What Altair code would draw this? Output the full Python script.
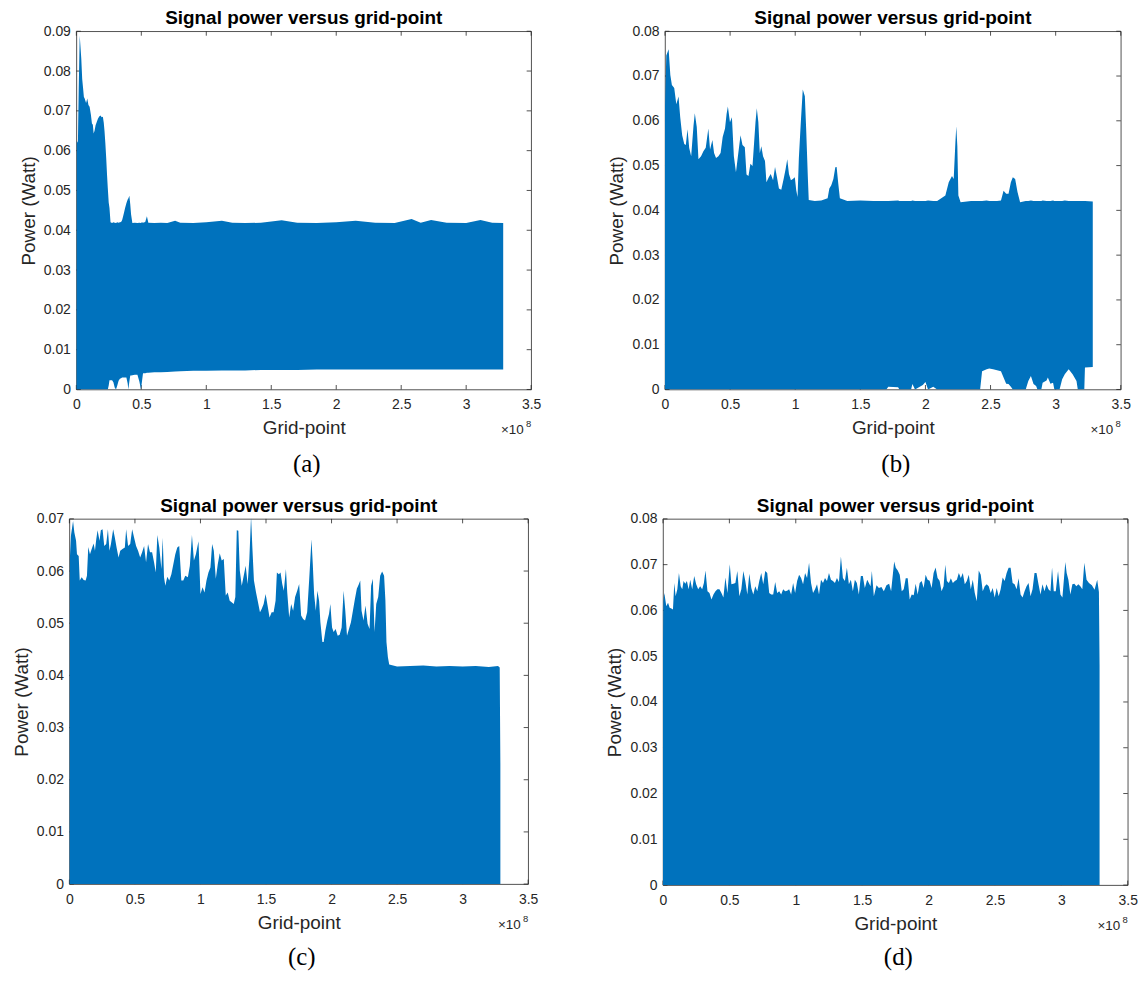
import altair as alt
import pandas as pd

BLUE = "#0072BD"
AX = "#262626"
SANS = "Liberation Sans"
SERIF = "Liberation Serif"

x_ticks = [0, 0.5, 1, 1.5, 2, 2.5, 3, 3.5]          # grid-point, x 10^8
y_ticks_a = [0, 0.01, 0.02, 0.03, 0.04, 0.05, 0.06, 0.07, 0.08, 0.09]
y_ticks_b = [0, 0.01, 0.02, 0.03, 0.04, 0.05, 0.06, 0.07, 0.08]
y_ticks_c = [0, 0.01, 0.02, 0.03, 0.04, 0.05, 0.06, 0.07]
y_ticks_d = [0, 0.01, 0.02, 0.03, 0.04, 0.05, 0.06, 0.07, 0.08]

title_text = "Signal power versus grid-point"
x_title = "Grid-point"
y_title = "Power (Watt)"
captions = ["(a)", "(b)", "(c)", "(d)"]

# ---------------- panel (a): grid point (x1e8), upper / lower envelope (W)
grid_a = [0.000, 0.003, 0.012, 0.018, 0.026, 0.032, 0.038, 0.045, 0.051, 0.058, 0.064, 0.075,
          0.084, 0.093, 0.102, 0.112, 0.120, 0.127, 0.133, 0.140, 0.148, 0.157, 0.166, 0.176,
          0.186, 0.195, 0.204, 0.211, 0.217, 0.223, 0.230, 0.236, 0.242, 0.249, 0.255, 0.263,
          0.275, 0.285, 0.295, 0.305, 0.315, 0.325, 0.335, 0.344, 0.352, 0.360, 0.368, 0.375,
          0.385, 0.395, 0.400, 0.408, 0.415, 0.421, 0.431, 0.450, 0.470, 0.485, 0.497, 0.505,
          0.513, 0.530, 0.543, 0.554, 0.600, 0.650, 0.700, 0.760, 0.800, 0.900, 1.000, 1.120,
          1.200, 1.300, 1.420, 1.580, 1.700, 1.850, 2.000, 2.150, 2.300, 2.450, 2.580, 2.650,
          2.730, 2.850, 3.000, 3.110, 3.200, 3.285]
upper_a = [0.0080, 0.0625, 0.0620, 0.0750, 0.0889, 0.0860, 0.0831, 0.0780, 0.0760, 0.0735, 0.0731, 0.0720,
           0.0731, 0.0715, 0.0710, 0.0690, 0.0668, 0.0665, 0.0643, 0.0650, 0.0664, 0.0672, 0.0680, 0.0686,
           0.0688, 0.0684, 0.0685, 0.0670, 0.0648, 0.0620, 0.0580, 0.0540, 0.0506, 0.0470, 0.0456, 0.0420,
           0.0418, 0.0420, 0.0419, 0.0418, 0.0420, 0.0419, 0.0420, 0.0421, 0.0425, 0.0435, 0.0446, 0.0456,
           0.0468, 0.0477, 0.0480, 0.0487, 0.0465, 0.0440, 0.0418, 0.0419, 0.0418, 0.0419, 0.0418, 0.0420,
           0.0419, 0.0421, 0.0435, 0.0419, 0.0418, 0.0419, 0.0418, 0.0424, 0.0419, 0.0418, 0.0420, 0.0424,
           0.0419, 0.0418, 0.0419, 0.0425, 0.0419, 0.0418, 0.0420, 0.0424, 0.0419, 0.0418, 0.0428, 0.0419,
           0.0426, 0.0419, 0.0418, 0.0426, 0.0419, 0.0418]
lower_a = [0, 0, 0, 0, 0, 0, 0, 0, 0, 0, 0, 0,
           0, 0, 0, 0, 0, 0, 0, 0, 0, 0, 0, 0,
           0, 0, 0, 0, 0, 0, 0, 0, 0, 0.0010, 0.0023, 0.0023,
           0.0023, 0.0018, 0.0005, 0, 0.0010, 0.0022, 0.0027, 0.0028, 0.0030, 0.0030, 0.0030, 0.0030,
           0.0030, 0.0015, 0, 0.0020, 0.0035, 0.0035, 0.0036, 0.0037, 0.0037, 0.0020, 0, 0.0020,
           0.0041, 0.0041, 0.0042, 0.0042, 0.0043, 0.0043, 0.0044, 0.0045, 0.0046, 0.0047, 0.0047, 0.0048,
           0.0048, 0.0048, 0.0049, 0.0049, 0.0049, 0.0050, 0.0050, 0.0050, 0.0050, 0.0050, 0.0050, 0.0050,
           0.0050, 0.0050, 0.0050, 0.0050, 0.0050, 0.0050]

# ---------------- panel (b)
grid_b = [0.000, 0.010, 0.028, 0.041, 0.053, 0.071, 0.087, 0.104, 0.117, 0.132, 0.148, 0.160,
          0.173, 0.186, 0.201, 0.219, 0.229, 0.244, 0.257, 0.277, 0.295, 0.313, 0.333, 0.346,
          0.364, 0.377, 0.392, 0.410, 0.427, 0.443, 0.461, 0.473, 0.483, 0.499, 0.514, 0.529,
          0.545, 0.560, 0.580, 0.595, 0.613, 0.626, 0.641, 0.656, 0.672, 0.684, 0.695, 0.705,
          0.717, 0.728, 0.740, 0.753, 0.768, 0.779, 0.797, 0.812, 0.830, 0.845, 0.860, 0.875,
          0.893, 0.911, 0.926, 0.939, 0.952, 0.967, 0.982, 0.997, 1.008, 1.018, 1.028, 1.043,
          1.058, 1.074, 1.084, 1.097, 1.104, 1.150, 1.200, 1.249, 1.262, 1.277, 1.293, 1.308,
          1.318, 1.331, 1.343, 1.400, 1.500, 1.600, 1.700, 1.715, 1.790, 1.800, 1.890, 1.900,
          1.920, 1.980, 2.000, 2.020, 2.060, 2.090, 2.153, 2.179, 2.204, 2.217, 2.230, 2.237,
          2.245, 2.253, 2.270, 2.350, 2.420, 2.435, 2.470, 2.490, 2.520, 2.550, 2.580, 2.600,
          2.620, 2.638, 2.656, 2.671, 2.689, 2.707, 2.727, 2.770, 2.790, 2.810, 2.830, 2.850,
          2.860, 2.890, 2.900, 2.930, 2.940, 2.960, 2.980, 2.990, 3.030, 3.050, 3.070, 3.100,
          3.130, 3.160, 3.170, 3.220, 3.225, 3.285]
upper_b = [0.0630, 0.0746, 0.0760, 0.0702, 0.0680, 0.0673, 0.0637, 0.0654, 0.0608, 0.0568, 0.0548, 0.0546,
           0.0581, 0.0539, 0.0521, 0.0589, 0.0617, 0.0586, 0.0514, 0.0521, 0.0532, 0.0540, 0.0583, 0.0536,
           0.0557, 0.0528, 0.0517, 0.0521, 0.0528, 0.0564, 0.0583, 0.0615, 0.0632, 0.0597, 0.0608, 0.0521,
           0.0485, 0.0521, 0.0568, 0.0546, 0.0541, 0.0480, 0.0477, 0.0504, 0.0499, 0.0550, 0.0597, 0.0628,
           0.0597, 0.0528, 0.0543, 0.0521, 0.0510, 0.0463, 0.0474, 0.0481, 0.0467, 0.0497, 0.0474, 0.0449,
           0.0446, 0.0470, 0.0492, 0.0514, 0.0481, 0.0467, 0.0470, 0.0474, 0.0445, 0.0430, 0.0517, 0.0597,
           0.0670, 0.0655, 0.0583, 0.0474, 0.0423, 0.0421, 0.0422, 0.0427, 0.0449, 0.0456, 0.0470, 0.0496,
           0.0497, 0.0459, 0.0427, 0.0421, 0.0422, 0.0421, 0.0421, 0.0421, 0.0422, 0.0421, 0.0421, 0.0422,
           0.0421, 0.0421, 0.0421, 0.0422, 0.0421, 0.0421, 0.0433, 0.0463, 0.0477, 0.0470, 0.0551, 0.0588,
           0.0544, 0.0433, 0.0418, 0.0421, 0.0421, 0.0421, 0.0422, 0.0421, 0.0421, 0.0421, 0.0422, 0.0444,
           0.0437, 0.0437, 0.0463, 0.0474, 0.0470, 0.0441, 0.0418, 0.0421, 0.0421, 0.0422, 0.0421, 0.0421,
           0.0421, 0.0421, 0.0422, 0.0421, 0.0421, 0.0421, 0.0422, 0.0421, 0.0421, 0.0421, 0.0422, 0.0421,
           0.0421, 0.0421, 0.0421, 0.0421, 0.0421, 0.0420]
lower_b = [0] * 91 + [0.0006, 0.0005, 0, 0, 0.0012,
           0, 0.0010, 0.0017, 0, 0.0006, 0, 0, 0, 0, 0, 0, 0,
           0, 0, 0, 0, 0, 0.0041, 0.0045, 0.0047, 0.0045, 0.0043, 0.0041, 0.0027,
           0.0013, 0.0012, 0.0006, 0, 0, 0, 0, 0, 0.0019, 0.0030, 0.0012, 0.0008,
           0, 0, 0.0015, 0.0020, 0.0027, 0.0013, 0.0015, 0, 0, 0.0023, 0.0034, 0.0045,
           0.0034, 0.0019, 0, 0, 0.0049, 0.0050]

# ---------------- panel (c)  (lower envelope is zero everywhere)
grid_c = [0.000, 0.003, 0.012, 0.028, 0.038, 0.051, 0.058, 0.071, 0.079, 0.094, 0.109, 0.124,
          0.134, 0.144, 0.157, 0.170, 0.185, 0.195, 0.205, 0.215, 0.230, 0.240, 0.253, 0.266,
          0.281, 0.294, 0.306, 0.317, 0.334, 0.347, 0.360, 0.375, 0.388, 0.405, 0.423, 0.433,
          0.448, 0.464, 0.479, 0.494, 0.509, 0.524, 0.540, 0.555, 0.570, 0.585, 0.600, 0.615,
          0.631, 0.646, 0.659, 0.671, 0.686, 0.702, 0.712, 0.722, 0.732, 0.747, 0.762, 0.778,
          0.793, 0.808, 0.823, 0.838, 0.854, 0.869, 0.884, 0.904, 0.919, 0.935, 0.950, 0.965,
          0.985, 1.000, 1.016, 1.031, 1.046, 1.061, 1.076, 1.089, 1.102, 1.117, 1.132, 1.147,
          1.162, 1.178, 1.193, 1.208, 1.223, 1.238, 1.254, 1.266, 1.277, 1.289, 1.300, 1.315,
          1.330, 1.345, 1.360, 1.373, 1.386, 1.396, 1.408, 1.424, 1.439, 1.454, 1.467, 1.482,
          1.497, 1.512, 1.527, 1.543, 1.558, 1.573, 1.583, 1.598, 1.611, 1.624, 1.636, 1.652,
          1.662, 1.677, 1.692, 1.707, 1.722, 1.738, 1.753, 1.768, 1.783, 1.798, 1.814, 1.829,
          1.839, 1.847, 1.857, 1.867, 1.880, 1.892, 1.905, 1.915, 1.930, 1.940, 1.953, 1.968,
          1.981, 1.991, 2.004, 2.016, 2.031, 2.047, 2.062, 2.077, 2.092, 2.105, 2.118, 2.133,
          2.148, 2.163, 2.178, 2.193, 2.209, 2.219, 2.229, 2.244, 2.259, 2.275, 2.290, 2.302,
          2.315, 2.328, 2.341, 2.356, 2.371, 2.386, 2.401, 2.411, 2.419, 2.430, 2.440, 2.500,
          2.600, 2.700, 2.800, 2.900, 3.000, 3.100, 3.200, 3.270, 3.283, 3.288]
upper_c = [0.0087, 0.0620, 0.0668, 0.0696, 0.0674, 0.0658, 0.0632, 0.0629, 0.0582, 0.0588, 0.0583, 0.0582,
           0.0591, 0.0646, 0.0632, 0.0642, 0.0653, 0.0639, 0.0661, 0.0678, 0.0658, 0.0678, 0.0680, 0.0648,
           0.0652, 0.0680, 0.0639, 0.0652, 0.0680, 0.0664, 0.0645, 0.0626, 0.0639, 0.0642, 0.0645, 0.0680,
           0.0648, 0.0652, 0.0680, 0.0664, 0.0648, 0.0639, 0.0626, 0.0636, 0.0648, 0.0617, 0.0652, 0.0636,
           0.0636, 0.0617, 0.0597, 0.0669, 0.0645, 0.0604, 0.0664, 0.0588, 0.0572, 0.0589, 0.0582, 0.0594,
           0.0613, 0.0632, 0.0645, 0.0648, 0.0582, 0.0582, 0.0591, 0.0588, 0.0610, 0.0669, 0.0620, 0.0632,
           0.0657, 0.0556, 0.0569, 0.0559, 0.0582, 0.0597, 0.0607, 0.0652, 0.0639, 0.0585, 0.0613, 0.0634,
           0.0620, 0.0623, 0.0553, 0.0559, 0.0543, 0.0540, 0.0537, 0.0550, 0.0678, 0.0677, 0.0601, 0.0572,
           0.0591, 0.0610, 0.0575, 0.0623, 0.0705, 0.0645, 0.0582, 0.0559, 0.0540, 0.0521, 0.0527, 0.0537,
           0.0556, 0.0534, 0.0511, 0.0521, 0.0521, 0.0543, 0.0597, 0.0594, 0.0597, 0.0575, 0.0562, 0.0604,
           0.0559, 0.0511, 0.0537, 0.0524, 0.0550, 0.0562, 0.0575, 0.0515, 0.0508, 0.0505, 0.0521, 0.0582,
           0.0626, 0.0661, 0.0613, 0.0556, 0.0524, 0.0562, 0.0543, 0.0502, 0.0464, 0.0464, 0.0486, 0.0505,
           0.0518, 0.0537, 0.0492, 0.0483, 0.0489, 0.0476, 0.0478, 0.0492, 0.0562, 0.0524, 0.0476, 0.0489,
           0.0502, 0.0524, 0.0546, 0.0566, 0.0575, 0.0582, 0.0524, 0.0505, 0.0534, 0.0499, 0.0489, 0.0572,
           0.0585, 0.0483, 0.0537, 0.0550, 0.0591, 0.0599, 0.0591, 0.0543, 0.0464, 0.0435, 0.0421, 0.0417,
           0.0418, 0.0419, 0.0417, 0.0418, 0.0417, 0.0418, 0.0416, 0.0418, 0.0415, 0.0230]
lower_c = [0] * len(grid_c)

# ---------------- panel (d)  (lower envelope is zero everywhere)
grid_d = [0.000, 0.003, 0.010, 0.025, 0.038, 0.050, 0.063, 0.075, 0.085, 0.095, 0.108, 0.120,
          0.133, 0.145, 0.155, 0.168, 0.180, 0.193, 0.205, 0.220, 0.235, 0.250, 0.265, 0.280,
          0.295, 0.308, 0.320, 0.335, 0.350, 0.365, 0.380, 0.395, 0.410, 0.425, 0.440, 0.455,
          0.470, 0.485, 0.503, 0.515, 0.530, 0.545, 0.560, 0.575, 0.590, 0.605, 0.620, 0.635,
          0.650, 0.665, 0.680, 0.695, 0.710, 0.725, 0.740, 0.755, 0.770, 0.785, 0.800, 0.815,
          0.830, 0.845, 0.860, 0.875, 0.890, 0.905, 0.920, 0.935, 0.950, 0.965, 0.980, 0.995,
          1.010, 1.025, 1.040, 1.055, 1.070, 1.085, 1.100, 1.115, 1.130, 1.145, 1.160, 1.175,
          1.190, 1.205, 1.220, 1.235, 1.250, 1.265, 1.280, 1.295, 1.310, 1.325, 1.340, 1.355,
          1.370, 1.385, 1.400, 1.415, 1.430, 1.445, 1.460, 1.475, 1.490, 1.505, 1.520, 1.538,
          1.563, 1.573, 1.588, 1.608, 1.626, 1.645, 1.663, 1.683, 1.703, 1.718, 1.741, 1.753,
          1.768, 1.783, 1.798, 1.813, 1.828, 1.843, 1.858, 1.873, 1.888, 1.903, 1.918, 1.933,
          1.948, 1.963, 1.978, 1.993, 2.008, 2.023, 2.038, 2.053, 2.068, 2.083, 2.098, 2.113,
          2.126, 2.138, 2.153, 2.168, 2.183, 2.198, 2.213, 2.228, 2.243, 2.258, 2.273, 2.288,
          2.303, 2.318, 2.333, 2.348, 2.363, 2.378, 2.393, 2.408, 2.423, 2.438, 2.453, 2.468,
          2.483, 2.498, 2.513, 2.528, 2.543, 2.558, 2.573, 2.588, 2.603, 2.618, 2.633, 2.648,
          2.663, 2.678, 2.693, 2.708, 2.723, 2.738, 2.753, 2.768, 2.783, 2.798, 2.813, 2.828,
          2.843, 2.858, 2.873, 2.888, 2.903, 2.918, 2.930, 2.943, 2.958, 2.975, 2.993, 3.008,
          3.030, 3.040, 3.053, 3.068, 3.083, 3.098, 3.113, 3.128, 3.143, 3.158, 3.173, 3.190,
          3.208, 3.230, 3.250, 3.270, 3.283, 3.288]
upper_d = [0.0530, 0.0620, 0.0638, 0.0609, 0.0617, 0.0606, 0.0604, 0.0602, 0.0660, 0.0631, 0.0646, 0.0682,
           0.0653, 0.0646, 0.0664, 0.0658, 0.0664, 0.0646, 0.0667, 0.0646, 0.0675, 0.0657, 0.0646, 0.0653,
           0.0646, 0.0660, 0.0687, 0.0642, 0.0638, 0.0624, 0.0635, 0.0642, 0.0646, 0.0646, 0.0638, 0.0628,
           0.0672, 0.0638, 0.0701, 0.0657, 0.0658, 0.0660, 0.0686, 0.0631, 0.0646, 0.0686, 0.0664, 0.0635,
           0.0680, 0.0649, 0.0635, 0.0653, 0.0642, 0.0664, 0.0682, 0.0657, 0.0686, 0.0682, 0.0638, 0.0635,
           0.0635, 0.0662, 0.0638, 0.0642, 0.0635, 0.0646, 0.0642, 0.0643, 0.0646, 0.0635, 0.0660, 0.0638,
           0.0664, 0.0678, 0.0671, 0.0657, 0.0682, 0.0671, 0.0704, 0.0660, 0.0638, 0.0646, 0.0657, 0.0635,
           0.0667, 0.0660, 0.0671, 0.0664, 0.0682, 0.0667, 0.0664, 0.0660, 0.0671, 0.0662, 0.0718, 0.0671,
           0.0664, 0.0693, 0.0657, 0.0667, 0.0642, 0.0667, 0.0660, 0.0635, 0.0675, 0.0675, 0.0649, 0.0667,
           0.0653, 0.0686, 0.0631, 0.0655, 0.0649, 0.0651, 0.0642, 0.0655, 0.0658, 0.0642, 0.0707, 0.0693,
           0.0687, 0.0678, 0.0642, 0.0646, 0.0670, 0.0670, 0.0624, 0.0635, 0.0633, 0.0658, 0.0635, 0.0660,
           0.0664, 0.0649, 0.0678, 0.0667, 0.0665, 0.0649, 0.0682, 0.0694, 0.0671, 0.0665, 0.0642, 0.0653,
           0.0700, 0.0664, 0.0660, 0.0670, 0.0660, 0.0664, 0.0667, 0.0682, 0.0671, 0.0682, 0.0657, 0.0664,
           0.0678, 0.0646, 0.0667, 0.0638, 0.0620, 0.0687, 0.0678, 0.0642, 0.0653, 0.0657, 0.0653, 0.0638,
           0.0649, 0.0628, 0.0649, 0.0631, 0.0646, 0.0672, 0.0664, 0.0682, 0.0693, 0.0693, 0.0660, 0.0657,
           0.0646, 0.0670, 0.0635, 0.0628, 0.0642, 0.0653, 0.0660, 0.0631, 0.0646, 0.0682, 0.0682, 0.0657,
           0.0635, 0.0657, 0.0642, 0.0657, 0.0646, 0.0642, 0.0694, 0.0642, 0.0642, 0.0686, 0.0635, 0.0628,
           0.0706, 0.0682, 0.0667, 0.0635, 0.0657, 0.0658, 0.0653, 0.0657, 0.0653, 0.0646, 0.0704, 0.0667,
           0.0660, 0.0655, 0.0645, 0.0667, 0.0640, 0.0480]
lower_d = [0] * len(grid_d)


def text_layer(txt, px, py, size, font=SANS, align="center", color=AX, weight="normal"):
    return alt.Chart(pd.DataFrame({"t": [txt]})).mark_text(
        align=align, baseline="alphabetic", font=font, fontSize=size,
        color=color, fontWeight=weight
    ).encode(text="t:N", x=alt.value(px), y=alt.value(py))


def panel(grid, upper, lower, ymax, yticks, w, h, caption, cap_dy):
    xs = alt.Scale(domain=[0, 3.5], nice=False, zero=False)
    ys = alt.Scale(domain=[0, ymax], nice=False)
    x_axis = alt.Axis(values=x_ticks, format="~g", labelFlush=False, labelOverlap=False,
                      labelPadding=8.5, titlePadding=7)
    y_axis = alt.Axis(values=yticks, format="~g", labelFlush=False, labelOverlap=False,
                      labelPadding=6, titlePadding=5)

    def X(f):
        return alt.X(f, scale=xs, axis=x_axis, title=x_title)

    def Y(f):
        return alt.Y(f, scale=ys, axis=y_axis, title=y_title)

    df = pd.DataFrame({"grid": grid, "upper": upper, "lower": lower})
    xt = pd.DataFrame({"v": x_ticks})
    yt = pd.DataFrame({"v": yticks})
    tick_style = dict(color=AX, strokeWidth=0.8)
    L = 4.5
    layers = [
        alt.Chart(xt).mark_rule(**tick_style).encode(x=X("v:Q"), y=alt.value(0), y2=alt.value(L)),
        alt.Chart(xt).mark_rule(**tick_style).encode(x=X("v:Q"), y=alt.value(h), y2=alt.value(h - L)),
        alt.Chart(yt).mark_rule(**tick_style).encode(y=Y("v:Q"), x=alt.value(0), x2=alt.value(L)),
        alt.Chart(yt).mark_rule(**tick_style).encode(y=Y("v:Q"), x=alt.value(w), x2=alt.value(w - L)),
        alt.Chart(df).mark_area(color=BLUE, opacity=1, clip=True, interpolate="linear").encode(
            x=X("grid:Q"), y=Y("upper:Q"), y2="lower:Q"),
        text_layer("\u00d710", w - 7.5, h + 45, 13.5, align="right"),
        text_layer("8", w, h + 38, 9.5, align="right"),
        text_layer(caption, w / 2 + 3, h + cap_dy, 25, font=SERIF, color="#000000"),
    ]
    return alt.layer(*layers).properties(
        width=w, height=h,
        title=alt.TitleParams(title_text, font=SANS, fontSize=19, fontWeight="bold",
                              color="#000000", offset=-23, baseline="bottom", anchor="middle"),
    )


pa = panel(grid_a, upper_a, lower_a, 0.09, y_ticks_a, 457, 360, captions[0], 83)
pb = panel(grid_b, upper_b, lower_b, 0.08, y_ticks_b, 458, 360, captions[1], 83)
pc = panel(grid_c, upper_c, lower_c, 0.07, y_ticks_c, 461, 367, captions[2], 81)
pd_ = panel(grid_d, upper_d, lower_d, 0.08, y_ticks_d, 467, 368, captions[3], 80)

row1 = alt.hconcat(pa, pb, spacing=134.5, bounds="flush")
row2 = alt.hconcat(pc, pd_, spacing=135.5, bounds="flush")
chart = alt.vconcat(row1, row2, spacing=18, center=True).properties(
    padding={"left": 3.5, "top": -2, "right": 0, "bottom": 0},
    background="white",
).configure_view(
    stroke=AX, strokeWidth=0.8
).configure_axis(
    labelFont=SANS, labelFontSize=14, labelColor=AX,
    titleFont=SANS, titleFontSize=19, titleFontWeight="normal", titleColor=AX,
    ticks=False, domain=False, grid=False,
)

chart.save("out.html", embed_options={"renderer": "svg", "actions": False})
